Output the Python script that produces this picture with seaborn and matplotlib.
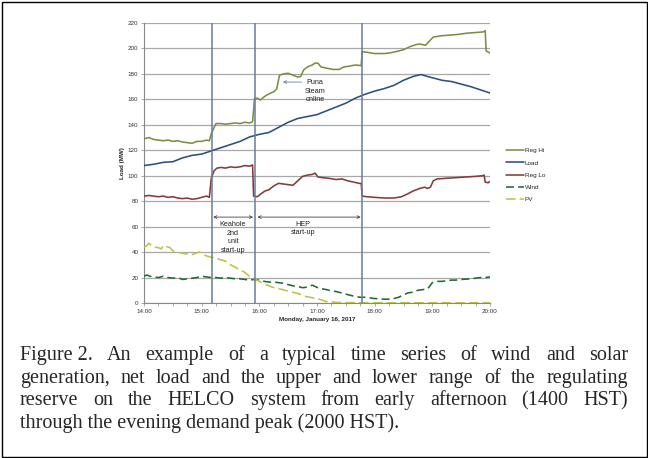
import matplotlib
matplotlib.use("Agg")
import matplotlib.pyplot as plt
from matplotlib.patches import Rectangle
from matplotlib.lines import Line2D
import seaborn as sns
import pandas as pd

# ---------------- data (minutes after 14:00, MW) ----------------
reg_hi_t = [0, 5, 10, 15, 20, 25, 30, 35, 40, 45, 50, 55, 60, 65, 68, 70, 73, 75, 80, 85, 90, 95, 100, 105,
            110, 113, 115, 118, 121, 125, 128, 132, 135, 138, 141, 145, 150, 155, 160, 163, 166, 170, 175,
            178, 181, 184, 190, 197, 203, 208, 213, 220, 226, 227, 232, 240, 250, 256, 262, 270, 277, 283,
            287, 293, 296, 301, 310, 318, 326, 336, 345, 353, 355, 356, 360]
reg_hi_v = [129, 130, 128.5, 128, 127.5, 128, 127, 127.5, 126.5, 126, 125.5, 127, 127, 128, 127.5, 133, 138,
            141, 141, 140.5, 141, 141.5, 141, 142, 141.5, 142.5, 160.5, 161, 159.5, 162, 163.5, 165, 166, 168,
            179, 180, 180.5, 179, 177.5, 178, 183, 185.5, 187, 188.5, 188.5, 185.5, 184.5, 183.5, 183.5,
            185.5, 186, 187, 186.5, 197.5, 197, 196, 196, 196.5, 197.5, 199, 201.5, 203, 203.5, 202.5, 205,
            209, 210, 210.5, 211, 212, 212.5, 213, 214, 198, 196.5]

load_t = [0, 10, 20, 30, 40, 50, 60, 70, 80, 90, 100, 110, 120, 130, 140, 150, 160, 170, 180, 190, 200,
          210, 220, 230, 240, 250, 260, 270, 280, 288, 295, 300, 310, 320, 330, 340, 350, 360]
load_v = [108, 109, 110.5, 111, 114, 116, 117, 119.5, 122, 124.5, 127, 130.5, 132.5, 134, 138, 142, 145,
          146.5, 148, 151, 154, 157, 161, 164, 166.5, 168.5, 171, 175, 178, 179.5, 178, 177, 175, 174,
          172, 170, 167.5, 165]

reg_lo_t = [0, 5, 10, 15, 20, 25, 30, 35, 40, 45, 50, 55, 60, 65, 68, 70, 73, 76, 80, 85, 90, 95, 100, 105,
            110, 113, 114, 118, 122, 126, 130, 135, 140, 145, 150, 155, 160, 165, 170, 175, 178, 181, 186,
            192, 200, 206, 212, 218, 224, 226, 227, 232, 240, 250, 260, 268, 275, 280, 287, 292, 295, 298,
            301, 305, 315, 325, 335, 345, 352, 354, 355, 358, 360]
reg_lo_v = [84, 84.5, 84, 83.5, 84, 83, 83.5, 82.5, 82, 82.5, 81.5, 82, 83, 84, 83, 98, 104, 106, 106.5,
            106, 107, 106.5, 107, 108, 107.5, 108.5, 84, 83.5, 86, 88, 89, 92, 94, 93.5, 93, 92.5, 96, 99.5,
            100.5, 101, 102, 99, 98.5, 98, 97, 97.5, 96, 95, 94, 94, 84, 83.5, 83, 82.5, 82.5, 83.5, 86, 88,
            90, 91, 90, 91, 96, 97.5, 98, 98.5, 99, 99.5, 100, 100.5, 95, 94.5, 95.5]

wind_t = [0, 3, 6, 10, 15, 20, 25, 30, 35, 40, 45, 50, 55, 60, 65, 70, 75, 80, 85, 90, 95, 100, 105, 110,
          115, 120, 125, 130, 135, 140, 145, 150, 155, 160, 165, 170, 175, 178, 182, 190, 195, 200, 205,
          210, 215, 220, 225, 230, 235, 240, 250, 255, 260, 265, 270, 275, 280, 285, 290, 295, 300, 305,
          310, 315, 320, 325, 330, 340, 345, 350, 355, 360]
wind_v = [21, 22, 21, 20.5, 20, 21, 20, 19.5, 20, 18.5, 19, 19.5, 20, 21, 20.5, 20, 20, 19.5, 20, 19.5,
          19, 19, 18.5, 18, 18.5, 18, 17, 16.5, 16.5, 16, 15.5, 14.5, 13.5, 13, 12, 12.5, 14, 13, 11.5,
          10.5, 9.5, 9, 8, 7, 6, 5, 4.5, 4.5, 4, 3.5, 3, 3, 3.5, 4.5, 6.5, 8, 8.5, 10, 10.5, 11, 16, 17,
          17, 17.5, 18, 18, 18.5, 19, 19.5, 20, 20, 20.5]

pv_t = [0, 3, 5, 8, 10, 15, 18, 20, 23, 27, 30, 35, 40, 45, 50, 55, 58, 62, 65, 70, 75, 80, 86, 90, 95,
        100, 105, 110, 115, 119, 125, 134, 142, 152, 160, 169, 176, 183, 190, 200, 210, 240, 270, 300,
        330, 360]
pv_v = [44, 45, 47, 45, 44, 43.5, 42.5, 45, 44.5, 43.5, 41, 40, 39, 38.5, 38, 39.5, 40, 38, 37, 36, 35,
        34, 32.5, 30, 28, 26, 24, 20.7, 19, 17.5, 15, 12.3, 11, 8.9, 7.5, 5, 4, 2.9, 1, 0.5, 0.3, 0.2,
        0.2, 0.2, 0.2, 0.2]

series_names = ["Reg Hi", "Load", "Reg Lo", "Wind", "PV"]
event_times = [70.5, 115.5, 227]
x_tick_labels = ["14:00", "15:00", "16:00", "17:00", "18:00", "19:00", "20:00"]
y_ticks = list(range(0, 221, 20))

caption_lines = [
    "Figure 2.  An example of a typical time series of wind and solar",
    "generation, net load and the upper and lower range of the regulating",
    "reserve on the HELCO system from early afternoon (1400 HST)",
    "through the evening demand peak (2000 HST).",
]

# ---------------- styling ----------------
sns.set_theme(style="white")
plt.rcParams["font.family"] = ["Liberation Sans", "DejaVu Sans"]

colors = {"Reg Hi": "#7A8F45", "Load": "#2F4E7E", "Reg Lo": "#833C3C",
          "Wind": "#1D6B36", "PV": "#BCC245"}
styles = {"Reg Hi": "-", "Load": "-", "Reg Lo": "-",
          "Wind": (0, (5, 2.6)), "PV": (0, (6, 2.6))}

W, H = 648, 458
fig = plt.figure(figsize=(W / 100, H / 100), dpi=100)
ax = fig.add_axes([144 / W, 1 - 303 / H, (490 - 144) / W, (303 - 23) / H])

data = {"Reg Hi": (reg_hi_t, reg_hi_v), "Load": (load_t, load_v), "Reg Lo": (reg_lo_t, reg_lo_v),
        "Wind": (wind_t, wind_v), "PV": (pv_t, pv_v)}

handles = []
for name in series_names:
    t, v = data[name]
    df = pd.DataFrame({"t": t, "v": v})
    sns.lineplot(data=df, x="t", y="v", ax=ax, color=colors[name], linewidth=1.15,
                 linestyle=styles[name], legend=False, zorder=3)
    handles.append(Line2D([], [], color=colors[name], lw=1.15, linestyle=styles[name]))

for et in event_times:
    ax.axvline(et, color="#6A7C98", lw=1.1, zorder=4)

ax.set_xlim(0, 360)
ax.set_ylim(0, 220)
ax.set_xticks([0, 60, 120, 180, 240, 300, 360])
ax.set_xticklabels(x_tick_labels)
ax.set_xticks(list(range(0, 361, 15)), minor=True)
ax.set_yticks(y_ticks)
ax.tick_params(axis="both", which="major", labelsize=4.5, length=2, width=0.5, color="#888888",
               pad=2, labelcolor="#333333")
ax.tick_params(axis="x", which="minor", length=2, width=0.5, color="#888888", bottom=True)
ax.tick_params(axis="x", which="major", bottom=True)
ax.tick_params(axis="y", which="major", left=True)
ax.yaxis.grid(True, color="#A8A8A8", lw=0.9, zorder=0)
ax.xaxis.grid(False)
for s in ["top", "right"]:
    ax.spines[s].set_visible(False)
for s in ["left", "bottom"]:
    ax.spines[s].set_color("#888888")
    ax.spines[s].set_linewidth(0.8)

ax.set_xlabel("Monday, January 16, 2017", fontsize=4.5, fontweight="bold", color="#222222")
ax.xaxis.set_label_coords(0.5, -0.05)
ax.set_ylabel("Load (MW)", fontsize=4.5, fontweight="bold", color="#222222")
ax.yaxis.set_label_coords(-0.055, 0.5)

# annotations
arrow_kw = dict(arrowstyle="<->", color="#444444", lw=0.6, shrinkA=0, shrinkB=0,
                mutation_scale=5)
ax.annotate("", xy=(72, 67.5), xytext=(113.5, 67.5), arrowprops=arrow_kw)
ax.annotate("", xy=(118, 67.5), xytext=(225.5, 67.5), arrowprops=arrow_kw)
ax.text(92.5, 51.5, "Keahole\n2nd\nunit\nstart-up", ha="center", va="center", fontsize=5.2,
        linespacing=1.3, color="#222222")
ax.text(165, 58.5, "HEP\nstart-up", ha="center", va="center", fontsize=5.2,
        linespacing=1.3, color="#222222")
ax.text(178, 166.5, "Puna\nSteam\nonline", ha="center", va="center", fontsize=5.2,
        linespacing=1.3, color="#222222")
ax.annotate("", xy=(144.5, 173.6), xytext=(164, 173.6),
            arrowprops=dict(arrowstyle="->", color="#6A7C98", lw=0.6, shrinkA=0, shrinkB=0,
                            mutation_scale=5))

fig.legend(handles, series_names, loc="upper left", bbox_to_anchor=(506 / W, 1 - 148 / H),
           frameon=False, fontsize=4.6, handlelength=2.8, labelspacing=1.05, handletextpad=0.15,
           borderaxespad=0, borderpad=0)

# border
fig.patches.append(Rectangle((1.5 / W, 1.5 / H), 1 - 3 / W, 1 - 3 / H, transform=fig.transFigure,
                             fill=False, ec="black", lw=1.0))

# justified caption
CAP_FS = 14.5
CAP_FAMILY = "Liberation Serif"
left_px, right_px = 20, 628
baselines = [360, 383, 405, 428]
fig.canvas.draw()
renderer = fig.canvas.get_renderer()


def text_width(s):
    t = fig.text(0, 0, s, fontsize=CAP_FS, family=CAP_FAMILY)
    w = t.get_window_extent(renderer).width
    t.remove()
    return w


for i, line in enumerate(caption_lines):
    y = 1 - baselines[i] / H
    if i == len(caption_lines) - 1:
        fig.text(left_px / W, y, line, fontsize=CAP_FS, family=CAP_FAMILY, va="baseline", ha="left")
        continue
    if line.startswith("Figure 2."):
        words = ["Figure 2."] + line[len("Figure 2."):].split()
    else:
        words = line.split()
    widths = [text_width(w) for w in words]
    gap = (right_px - left_px - sum(widths)) / (len(words) - 1)
    x = left_px
    for w, wd in zip(words, widths):
        fig.text(x / W, y, w, fontsize=CAP_FS, family=CAP_FAMILY, va="baseline", ha="left")
        x += wd + gap

fig.savefig("out.png", dpi=100)
